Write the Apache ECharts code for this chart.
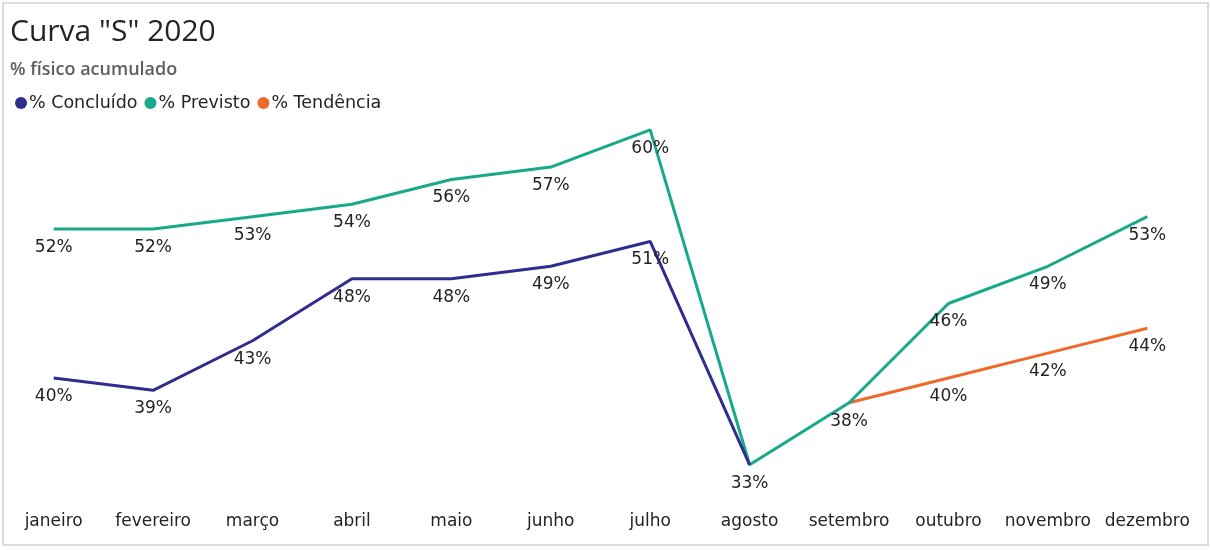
<!DOCTYPE html>
<html><head><meta charset="utf-8">
<script src="https://cdn.jsdelivr.net/npm/echarts@6/dist/echarts.min.js"></script>
<style>html,body{margin:0;padding:0;background:#fff}#c{width:1211px;height:550px}</style>
</head><body><div id="c"></div>
<script>
const months = ['janeiro','fevereiro','março','abril','maio','junho','julho','agosto','setembro','outubro','novembro','dezembro'];
const concluido = [40,39,43,48,48,49,51,33,null,null,null,null];
const previsto = [52,52,53,54,56,57,60,33,38,46,49,53];
const tendencia = [null,null,null,null,null,null,null,null,38,40,42,44];
const hidePrevistoLabelAt = [7];
const hideTendenciaLabelAt = [8];
const colors = {c:'#2F2E8E', p:'#17A98B', t:'#EE6A2B'};

const FONT = "'DejaVu Sans', Verdana, sans-serif";
const chart = echarts.init(document.getElementById('c'));
const labelStyle = {show:true, position:'bottom', distance:9, formatter: p => p.value + '%', fontFamily:FONT, fontSize:17, color:'#252423'};
function mk(arr, hide){
  return arr.map((v,i)=> hide.includes(i) ? {value:v, label:{show:false}} : v);
}
function ser(name, data, color, z){
  return {name, type:'line', data, z, color,
    lineStyle:{width:3, color}, symbol:'circle', symbolSize:2, showSymbol:true,
    itemStyle:{color:'rgba(0,0,0,0)', borderWidth:0},
    label:labelStyle};
}
chart.setOption({
  animation:false,
  backgroundColor:'#fff',
  graphic:[{type:'rect', shape:{x:3,y:3,width:1205,height:542}, style:{fill:'none', stroke:'#dcdcdc', lineWidth:2}, silent:true}],
  title:[
    {text:'Curva "S" 2020', left:5, top:12, textStyle:{fontFamily:"'Open Sans'", fontSize:30, fontWeight:'normal', color:'#252423'}},
    {text:'% físico acumulado', left:5, top:56, textStyle:{fontFamily:"'Open Sans'", fontSize:18, fontWeight:600, color:'#605E5C'}}
  ],
  legend:{left:10, top:89, icon:'circle', itemWidth:12, itemHeight:12, itemGap:7,
    textStyle:{fontFamily:FONT, fontSize:17.5, color:'#252423', padding:[0,0,0,-3]},
    data:[
      {name:'% Concluído', itemStyle:{color:colors.c}},
      {name:'% Previsto', itemStyle:{color:colors.p}},
      {name:'% Tendência', itemStyle:{color:colors.t}}
    ]},
  grid:{left:4, right:14, top:105, bottom:48, containLabel:false},
  xAxis:{type:'category', data:months, boundaryGap:true,
    axisLine:{show:false}, axisTick:{show:false},
    axisLabel:{fontFamily:FONT, fontSize:17, color:'#252423', margin:11, interval:0}},
  yAxis:{type:'value', min:30, max:62, show:false, splitLine:{show:false}},
  series:[
    ser('% Concluído', concluido, colors.c, 3),
    ser('% Previsto', mk(previsto, hidePrevistoLabelAt), colors.p, 2),
    ser('% Tendência', mk(tendencia, hideTendenciaLabelAt), colors.t, 1)
  ]
});
</script></body></html>
